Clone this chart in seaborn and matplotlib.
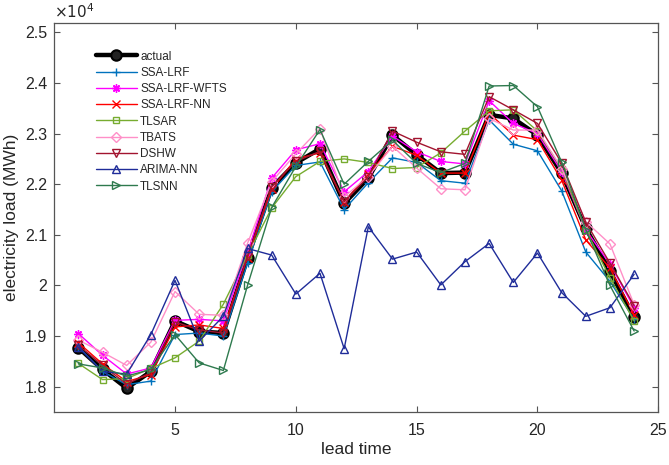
import numpy as np
import pandas as pd
import matplotlib
matplotlib.use('Agg')
import matplotlib.pyplot as plt
import seaborn as sns
from matplotlib.ticker import FuncFormatter

# lead times 1..24
lead_time = list(range(1, 25))

actual = [18770, 18340, 17970, 18300, 19300, 19090, 19060, 20540, 21930, 22420, 22700, 21620,
          22120, 22970, 22580, 22220, 22230, 23370, 23300, 22970, 22220, 21130, 20280, 19370]
ssa_lrf = [18790, 18300, 18040, 18110, 19030, 19060, 19000, 20440, 21850, 22370, 22440, 21500,
           22030, 22520, 22430, 22070, 22020, 23270, 22790, 22660, 21870, 20660, 20080, 19330]
ssa_lrf_wfts = [19050, 18620, 18250, 18370, 19310, 19330, 19300, 20650, 22120, 22680, 22800, 21850,
                22250, 22950, 22640, 22450, 22400, 23650, 23200, 23000, 22250, 21100, 20420, 19560]
ssa_lrf_nn = [18870, 18450, 18100, 18240, 19180, 19220, 19150, 20550, 21900, 22500, 22620, 21650,
              22200, 22750, 22570, 22220, 22220, 23400, 22970, 22880, 22080, 20900, 20340, 19420]
tlsar = [18460, 18140, 18160, 18360, 18570, 18900, 19630, 20600, 21530, 22150, 22450, 22500,
         22430, 22310, 22330, 22620, 23050, 23450, 23470, 23050, 22300, 21100, 20150, 19300]
tbats = [18920, 18680, 18420, 18880, 19880, 19430, 19410, 20830, 22050, 22600, 23100, 21750,
         22150, 22750, 22320, 21910, 21890, 23300, 23070, 23070, 22310, 21260, 20820, 19620]
dshw = [18820, 18420, 18050, 18280, 19280, 19120, 19060, 20580, 21950, 22450, 22650, 21650,
        22150, 23050, 22830, 22640, 22590, 23730, 23470, 23200, 22420, 21250, 20440, 19600]
arima_nn = [18780, 18300, 18250, 19030, 20100, 18900, 19390, 20730, 20600, 19830, 20240, 18750,
            21160, 20520, 20660, 20010, 20470, 20830, 20060, 20640, 19860, 19390, 19560, 20220]
tlsnn = [18450, 18370, 18210, 18340, 19030, 18470, 18320, 20000, 21540, 22350, 23080, 22000,
         22450, 22870, 22410, 22230, 22410, 23940, 23950, 23530, 22440, 21100, 20000, 19100]

series = ['actual', 'SSA-LRF', 'SSA-LRF-WFTS', 'SSA-LRF-NN', 'TLSAR', 'TBATS', 'DSHW', 'ARIMA-NN', 'TLSNN']
values = [actual, ssa_lrf, ssa_lrf_wfts, ssa_lrf_nn, tlsar, tbats, dshw, arima_nn, tlsnn]

renkler = ['#000000', '#0072BD', '#FF00FF', '#FF0000', '#77AC30', '#FF8FC8', '#A2142F', '#1F2C99', '#2E7A4E']
isaretler = ['o', '+', (8, 2, 0), 'x', 's', 'D', 'v', '^', '>']

sns.set_style('ticks')
plt.rcParams['font.family'] = ['Liberation Sans', 'DejaVu Sans']

fig = plt.figure(figsize=(6.69, 4.65), dpi=100)
ax = fig.add_axes([0.081, 0.114, 0.903, 0.836])

for ad, y, renk, m in zip(series, values, renkler, isaretler):
    df = pd.DataFrame({'lead time': lead_time, 'load': y})
    if ad == 'actual':
        sns.lineplot(data=df, x='lead time', y='load', ax=ax, color=renk, linewidth=3.2,
                     marker=m, markersize=7.5, markerfacecolor='#222222', markeredgecolor='black',
                     markeredgewidth=1.5, label=ad)
    else:
        sns.lineplot(data=df, x='lead time', y='load', ax=ax, color=renk, linewidth=1.0,
                     marker=m, markersize=6 if m not in ('D', 's') else 5, markerfacecolor='none',
                     markeredgecolor=renk, markeredgewidth=1.0, label=ad)

ax.set_xlim(0, 25)
ax.set_ylim(17500, 25180)
ax.set_xticks([5, 10, 15, 20, 25])
ax.set_yticks(np.arange(18000, 25001, 1000))
ax.yaxis.set_major_formatter(FuncFormatter(lambda v, p: f'{v / 1e4:g}'))
ax.text(0.0, 1.005, r'$\times10^{4}$', transform=ax.transAxes, fontsize=11, va='bottom', ha='left')

ax.tick_params(direction='in', top=True, right=True, length=4, width=0.8, labelsize=11.5, color='#555555')
ax.tick_params(axis='x', pad=8)
ax.tick_params(axis='y', pad=5)
for s in ax.spines.values():
    s.set_visible(True)
    s.set_color('#555555')
    s.set_linewidth(0.9)

ax.set_xlabel('lead time', fontsize=12.5, labelpad=3)
ax.set_ylabel('electricity load (MWh)', fontsize=12.5)

ax.legend(loc='upper left', bbox_to_anchor=(0.062, 0.942), borderaxespad=0, frameon=False,
          fontsize=8.5, handlelength=3.4, labelspacing=0.36, handletextpad=0.3)

fig.savefig('out.png', dpi=100)
